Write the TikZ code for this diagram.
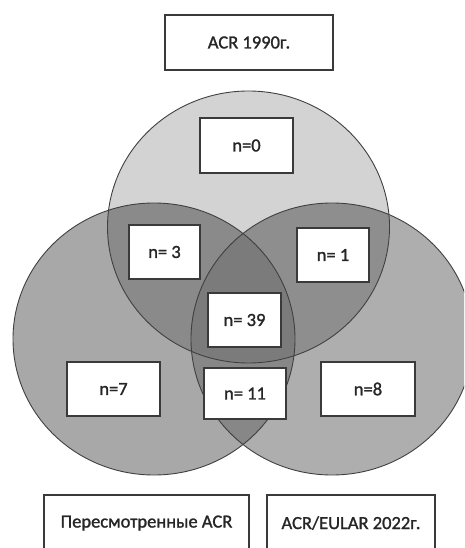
\documentclass[tikz,border=0pt]{standalone}
\usepackage{fontspec}
\setmainfont{Carlito}[BoldFont=Carlito, BoldFeatures={FakeBold=1.3}]
\definecolor{ctop}{HTML}{D3D3D3}
\definecolor{cleft}{HTML}{A8A8A8}
\definecolor{cright}{HTML}{AEAEAE}
\definecolor{ctl}{HTML}{8A8A8A}
\definecolor{ctr}{HTML}{8E8E8E}
\definecolor{clr}{HTML}{878787}
\definecolor{call}{HTML}{7B7B7B}
\definecolor{edge}{HTML}{404040}
\definecolor{boxedge}{HTML}{3A3A3A}
\tikzset{
  txt/.style={font=\fontsize{18.5}{20}\selectfont\bfseries, text=black!85},
  lbl/.style={txt, draw=boxedge, line width=1.1pt, fill=white, inner sep=0pt},
  ring/.style={draw=edge, line width=0.9pt}
}
\begin{document}
\begin{tikzpicture}[x=1pt,y=-1pt]
\useasboundingbox (0,0) rectangle (464,548);
\clip (0,0) rectangle (464,548);
\def\topc{(248.5,227) ellipse [x radius=141pt, y radius=136pt]}
\def\leftc{(154,339) ellipse [x radius=141pt, y radius=136pt]}
\def\rightc{(332,339) ellipse [x radius=141pt, y radius=136pt]}
% base fills
\fill[cleft] \leftc;
\fill[cright] \rightc;
\begin{scope}\clip \leftc; \fill[clr] \rightc;\end{scope}
\fill[ctop] \topc;
\begin{scope}\clip \topc; \fill[ctl] \leftc;\end{scope}
\begin{scope}\clip \topc; \fill[ctr] \rightc;\end{scope}
\begin{scope}\clip \topc; \clip \leftc; \fill[call] \rightc;\end{scope}
% outlines
\draw[ring] \leftc;
\draw[ring] \rightc;
\draw[ring] \topc;
% labels
\node[lbl, minimum width=168pt, minimum height=55pt] (t1990) at (249,42.5) {ACR 1990г.};
\node[lbl, minimum width=93pt, minimum height=55pt] (n0) at (246.5,145.5) {n=0};
\node[lbl, minimum width=71pt, minimum height=54pt] (n3) at (164.5,252) {n= 3};
\node[lbl, minimum width=72pt, minimum height=54pt] (n1) at (333,255) {n= 1};
\node[lbl, minimum width=73pt, minimum height=54pt] (n39) at (244.5,320) {n= 39};
\node[lbl, minimum width=93pt, minimum height=54pt] (n7) at (113.5,389) {n=7};
\node[lbl, minimum width=82pt, minimum height=51pt] (n11) at (245,393.5) {n= 11};
\node[lbl, minimum width=94pt, minimum height=54pt] (n8) at (368,389) {n=8};
\node[lbl, minimum width=205pt, minimum height=60pt] (revised) at (146.5,525) {};
\node[txt] at (146.5,523) (revisedtxt) {Пересмотренные ACR};
\node[lbl, minimum width=168pt, minimum height=60pt] (eular) at (351,525) {};
\node[txt] at (351,523) (eulartxt) {ACR/EULAR 2022г.};
\end{tikzpicture}
\end{document}
